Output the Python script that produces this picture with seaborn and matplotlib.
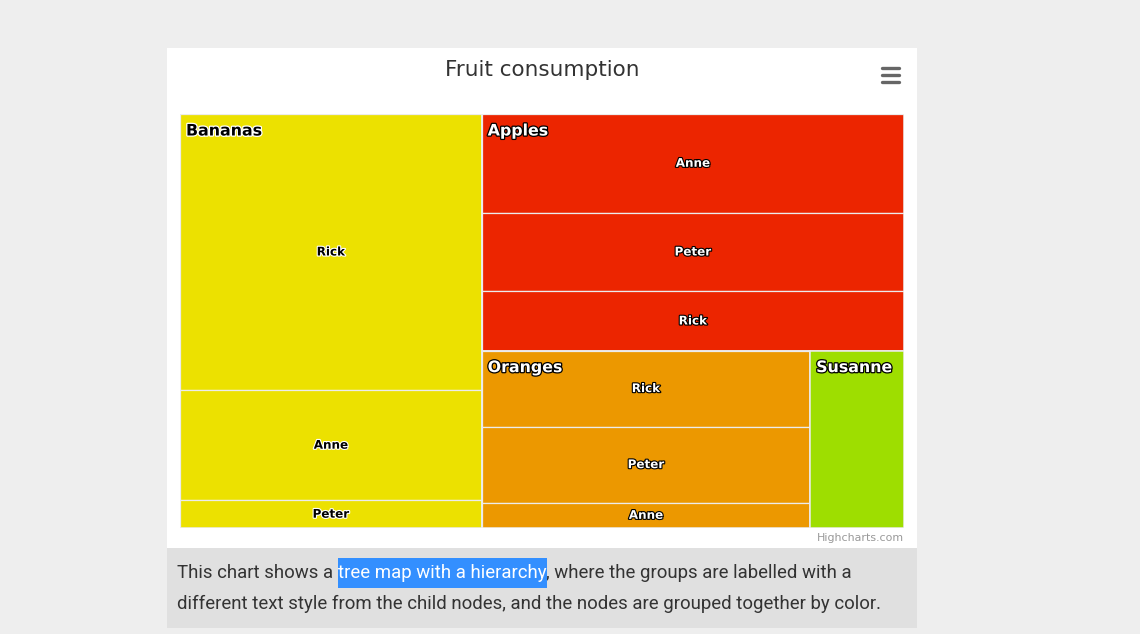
import pandas as pd
import numpy as np
import matplotlib
matplotlib.use('Agg')
import matplotlib.pyplot as plt
import matplotlib.patheffects as pe
from matplotlib.patches import Rectangle
import seaborn as sns

sns.set_theme(style='white')
plt.rcParams['font.family'] = ['DejaVu Sans']

# top level nodes
top_names = ['Apples', 'Bananas', 'Oranges', 'Susanne']
top_colors = ['#EC2500', '#ECE100', '#EC9800', '#9EDE00']
top_own_values = [0, 0, 0, 2]

# child nodes
child_names = ['Anne', 'Rick', 'Peter', 'Anne', 'Rick', 'Peter', 'Anne', 'Rick', 'Peter']
child_parent = ['Apples', 'Apples', 'Apples', 'Bananas', 'Bananas', 'Bananas',
                'Oranges', 'Oranges', 'Oranges']
child_values = [5, 3, 4, 4, 10, 1, 1, 3, 3]

title = 'Fruit consumption'
desc_1a = 'This chart shows a'
desc_1b = 'tree map with a hierarchy'
desc_1c = ', where the groups are labelled with a'
desc_2 = 'different text style from the child nodes, and the nodes are grouped together by color.'

dfKids = pd.DataFrame({'name': child_names, 'parent': child_parent, 'value': child_values})
dfTop = pd.DataFrame({'name': top_names, 'color': top_colors, 'own': top_own_values})
dfTop['value'] = [dfKids.loc[dfKids.parent == n, 'value'].sum() + o
                  for n, o in zip(dfTop.name, dfTop.own)]
dfTop = dfTop.sort_values('value', ascending=False, kind='stable').reset_index(drop=True)


def alt_layout(values, x, y, w, h):
    # slice off one node at a time, alternating direction
    rects = []
    rest = float(sum(values))
    vertical = True
    for v in values:
        if vertical:
            ww = w * v / rest
            rects.append((x, y, ww, h))
            x += ww
            w -= ww
        else:
            hh = h * v / rest
            rects.append((x, y, w, hh))
            y += hh
            h -= hh
        rest -= v
        vertical = not vertical
    return rects


def stripe_layout(values, x, y, w, h):
    rects = []
    tot = float(sum(values))
    for v in values:
        hh = h * v / tot
        rects.append((x, y, w, hh))
        y += hh
    return rects


def txt_colors(hexcol):
    r, g, b = [int(hexcol[i:i + 2], 16) for i in (1, 3, 5)]
    if r + g + b > 400:
        return '#000000', '#ffffff'
    return '#ffffff', '#000000'


W, H = 1140, 634
fig = plt.figure(figsize=(W / 100, H / 100), dpi=100)
fig.patch.set_facecolor('#eeeeee')

bg = fig.add_axes([0, 0, 1, 1])
bg.set_xlim(0, W)
bg.set_ylim(H, 0)
bg.axis('off')
bg.add_patch(Rectangle((167, 48), 750, 500, facecolor='white', edgecolor='none'))
bg.add_patch(Rectangle((167, 548), 750, 80, facecolor='#e0e0e0', edgecolor='none'))

bg.text(542, 70, title, ha='center', va='center', fontsize=15.5, color='#333333')
for yy in (68, 75, 82):
    bg.plot([882, 899], [yy, yy], color='#666666', lw=2.4, solid_capstyle='round')
bg.text(904, 538, 'Highcharts.com', ha='right', va='center', fontsize=7.9, color='#999999')

# treemap area
ax = fig.add_axes([180 / W, 1 - 528 / H, 724 / W, 414 / H])
ax.set_xlim(0, 1)
ax.set_ylim(1, 0)
ax.axis('off')

edge = '#ececec'
top_rects = alt_layout(dfTop.value.tolist(), 0, 0, 1, 1)
labels = []
for (x, y, w, h), (_, row) in zip(top_rects, dfTop.iterrows()):
    fc, oc = txt_colors(row.color)
    kids = dfKids[dfKids.parent == row['name']].sort_values('value', ascending=False, kind='stable')
    if len(kids):
        for (cx, cy, cw, ch), kname in zip(stripe_layout(kids.value.tolist(), x, y, w, h), kids.name):
            ax.add_patch(Rectangle((cx, cy), cw, ch, facecolor=row.color, edgecolor=edge, lw=0.9))
            labels.append(((cx + cw / 2, cy + ch / 2), kname, fc, oc))
    ax.add_patch(Rectangle((x, y), w, h, facecolor='none' if len(kids) else row.color,
                           edgecolor=edge, lw=1.1))
    ax.annotate(row['name'], xy=(x, y), xytext=(6, -17), textcoords='offset pixels',
                ha='left', va='center', fontsize=11.4, fontweight='bold', color=fc,
                path_effects=[pe.withStroke(linewidth=1.8, foreground=oc)])

for (px, py), name, fc, oc in labels:
    ax.text(px, py, name, ha='center', va='center', fontsize=8.6, fontweight='bold', color=fc,
            path_effects=[pe.withStroke(linewidth=1.6, foreground=oc)])

# description below the chart
rend = fig.canvas.get_renderer()
dfont = dict(fontsize=13.4, color='#333333', family=['Roboto', 'DejaVu Sans'], va='center')
t1 = bg.text(177, 573, desc_1a, ha='left', **dfont)
x1 = t1.get_window_extent(renderer=rend).x1 + 4.5
t2 = bg.text(x1, 573, desc_1b, ha='left', **{**dfont, 'color': 'white'}, zorder=5)
bb = t2.get_window_extent(renderer=rend)
bg.add_patch(Rectangle((bb.x0, 558), bb.x1 - bb.x0 + 1, 30, facecolor='#338fff', edgecolor='none', zorder=4))
bg.text(bb.x1, 573, desc_1c, ha='left', **dfont)
bg.text(177, 604, desc_2, ha='left', **dfont)

fig.savefig('out.png', dpi=100)
